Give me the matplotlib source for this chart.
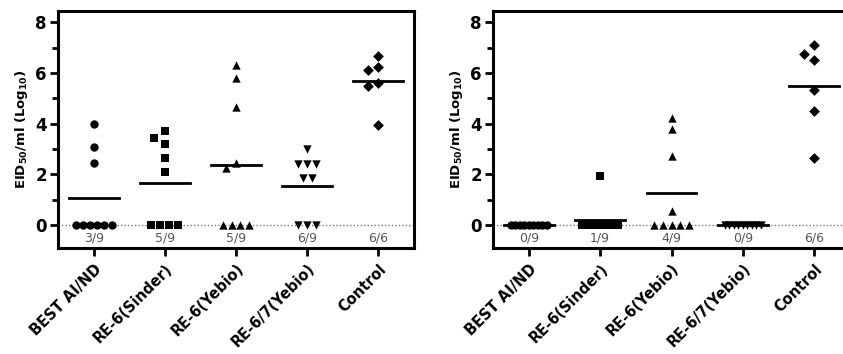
import numpy as np
import matplotlib
matplotlib.use("Agg")
import matplotlib.pyplot as plt
from matplotlib.ticker import MultipleLocator

plt.rcParams["font.family"] = "DejaVu Sans"
plt.rcParams["mathtext.fontset"] = "custom"
plt.rcParams["mathtext.rm"] = "DejaVu Sans:bold"
plt.rcParams["mathtext.bf"] = "DejaVu Sans:bold"

groups = ["BEST AI/ND", "RE-6(Sinder)", "RE-6(Yebio)", "RE-6/7(Yebio)", "Control"]
markers = ["o", "s", "^", "v", "D"]

# log10 EID50/ml per bird (0 = below detection)
left_best = [3.98, 3.09, 2.47, 0, 0, 0, 0, 0, 0]
left_sinder = [3.72, 3.44, 3.22, 2.67, 2.10, 0, 0, 0, 0]
left_yebio = [6.31, 5.79, 4.67, 2.46, 2.24, 0, 0, 0, 0]
left_yebio67 = [3.02, 2.43, 2.43, 2.43, 1.87, 1.87, 0, 0, 0]
left_control = [6.67, 6.25, 6.11, 5.61, 5.50, 3.97]
left_ratio = ["3/9", "5/9", "5/9", "6/9", "6/6"]

right_best = [0, 0, 0, 0, 0, 0, 0, 0, 0]
right_sinder = [1.95, 0, 0, 0, 0, 0, 0, 0, 0]
right_yebio = [4.21, 3.78, 2.73, 0.55, 0, 0, 0, 0, 0]
right_yebio67 = [0, 0, 0, 0, 0, 0, 0, 0, 0]
right_control = [7.10, 6.77, 6.51, 5.35, 4.50, 2.65]
right_ratio = ["0/9", "1/9", "4/9", "0/9", "6/6"]

left_data = [left_best, left_sinder, left_yebio, left_yebio67, left_control]
right_data = [right_best, right_sinder, right_yebio, right_yebio67, right_control]

PX_X = 71.5   # pixels per category
PX_Y = 25.35  # pixels per log unit


def swarm_offsets(vals, step=10.5, row_w=36.0, h=9.0):
    # simple GraphPad-like scatter: ties go in a centred row, near values get pushed aside
    vals = np.asarray(vals, float)
    off = np.zeros(len(vals))
    placed = []
    for v in sorted(set(vals), reverse=True):
        idx = np.where(vals == v)[0]
        n = len(idx)
        y = v * PX_Y
        if n > 1:
            sp = min(9.0, row_w / (n - 1))
            xs = (np.arange(n) - (n - 1) / 2) * sp
        else:
            c = 0.0
            for k in [0, -1, 1, -2, 2, -3, 3]:
                c = k * step
                if all(abs(c - px) >= step or abs(y - py) >= h for px, py in placed):
                    break
            xs = [c]
        for i, x in zip(idx, xs):
            off[i] = x / PX_X
            placed.append((x, y))
    return off


def draw_panel(ax, data, ratios):
    ax.axhline(0, color="#777777", lw=1.0, ls=(0, (1, 1.5)), zorder=1)
    for i, vals in enumerate(data):
        xo = swarm_offsets(vals)
        ax.scatter(i + xo, vals, marker=markers[i], s=36 if markers[i] != "D" else 30,
                   color="black", linewidths=0, zorder=3)
        m = np.mean(vals)
        ax.plot([i - 0.35, i + 0.35], [m, m], color="black", lw=2.0, zorder=4)
        ax.text(i, -0.5, ratios[i], ha="center", va="center", fontsize=9, color="#555555")

    ax.set_xlim(-0.5, 4.5)
    ax.set_ylim(-0.9, 8.45)
    ax.set_xticks(range(len(groups)))
    ax.set_xticklabels(groups, rotation=45, ha="right", va="top",
                       rotation_mode="anchor", fontsize=10.5, fontweight="bold")
    ax.set_yticks([0, 2, 4, 6, 8])
    ax.yaxis.set_minor_locator(MultipleLocator(1))
    for lab in ax.get_yticklabels():
        lab.set_fontweight("bold")
        lab.set_fontsize(12)
    ax.tick_params(axis="both", which="major", length=6, width=2, pad=2)
    ax.tick_params(axis="x", which="major", pad=3.5)
    ax.tick_params(axis="y", which="minor", length=4, width=2)
    ax.tick_params(axis="x", which="minor", length=0)
    for s in ax.spines.values():
        s.set_linewidth(2.2)
    ax.set_ylabel(r"EID$_{50}$/ml (Log$_{10}$)", fontsize=9.5, fontweight="bold", labelpad=4)


fig = plt.figure(figsize=(8.43, 3.54), dpi=100)
ax1 = fig.add_axes([58 / 843, 1 - 248 / 354, 356 / 843, 237 / 354])
ax2 = fig.add_axes([493 / 843, 1 - 248 / 354, 357 / 843, 237 / 354])
draw_panel(ax1, left_data, left_ratio)
draw_panel(ax2, right_data, right_ratio)

fig.savefig("out.png", dpi=100, facecolor="white")
